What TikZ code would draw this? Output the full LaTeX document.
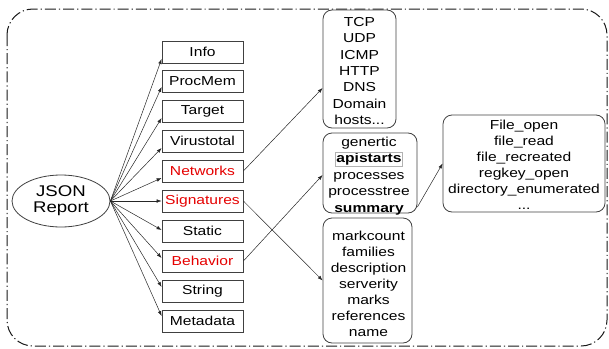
\documentclass[tikz,border=0pt]{standalone}
\usepackage{fontspec}
\setmainfont{Liberation Sans}[FakeStretch=1.2]
\usetikzlibrary{arrows.meta,shapes.geometric}
\begin{document}
\begin{tikzpicture}[x=1pt,y=-1pt,
  lbox/.style={draw=black!75, line width=0.8pt, minimum width=81pt, minimum height=22pt, inner sep=0pt, font=\fontsize{13}{15}\selectfont},
  rbox/.style={draw=black!75, line width=0.8pt, rounded corners=9pt, inner sep=0pt},
  txt/.style={align=center, inner sep=0pt},
  hl/.style={text=red!90!black},
  arr/.style={draw=black!85, line width=0.5pt, -{Latex[length=5pt,width=3.6pt]}},
  frame/.style={draw=black!90, line width=1pt, rounded corners=26pt, dash pattern=on 11pt off 3pt on 1.2pt off 3pt}
]
\useasboundingbox (0,0) rectangle (609,348);
\draw[frame] (7,9) rectangle (607,346);

% root
\node[ellipse, draw=black!75, line width=0.8pt, minimum width=98pt, minimum height=52pt, inner sep=0pt, align=center, font=\fontsize{15.5}{16}\selectfont] (json) at (61,201) {JSON\\Report};

% left column
\node[lbox] (info) at (202.5,52) {Info};
\node[lbox] (procmem) at (202.5,81) {ProcMem};
\node[lbox] (target) at (202.5,111) {Target};
\node[lbox] (virus) at (202.5,141) {Virustotal};
\node[lbox, hl] (networks) at (202.5,171) {Networks};
\node[lbox, hl] (signatures) at (202.5,201) {Signatures};
\node[lbox] (static) at (202.5,231) {Static};
\node[lbox, hl] (behavior) at (202.5,261) {Behavior};
\node[lbox] (string) at (202.5,291) {String};
\node[lbox] (metadata) at (202.5,321) {Metadata};

% right boxes
\node[rbox, minimum width=73pt, minimum height=118pt] (netbox) at (359.5,69) {};
\node[txt, font=\fontsize{13}{16.4}\selectfont] (nettxt) at (359.5,71) {TCP\\UDP\\ICMP\\HTTP\\DNS\\Domain\\hosts...};

\node[rbox, minimum width=94pt, minimum height=80pt] (behbox) at (370,173) {};
\node[txt, font=\fontsize{13}{16.5}\selectfont] (behtxt) at (369,176) {genertic\\{\fboxsep=0.6pt\fboxrule=0.4pt\color{black!30}\fbox{\color{black}\textbf{apistarts}}}\\processes\\processtree\\\textbf{summary}};

\node[rbox, minimum width=89pt, minimum height=125pt] (sigbox) at (367.5,280.5) {};
\node[txt, font=\fontsize{13}{16}\selectfont] (sigtxt) at (368.5,284) {markcount\\families\\description\\serverity\\marks\\references\\name};

\node[rbox, minimum width=162pt, minimum height=97pt] (apibox) at (524,163.5) {};
\node[txt, font=\fontsize{13}{16}\selectfont] (apitxt) at (524,165) {File\_open\\file\_read\\file\_recreated\\regkey\_open\\directory\_enumerated\\...};

% connectors from root
\draw[arr] (json.east) -- ([yshift=-7pt]info.west);
\draw[arr] (json.east) -- ([yshift=-6pt]procmem.west);
\draw[arr] (json.east) -- ([yshift=-7pt]target.west);
\draw[arr] (json.east) -- ([yshift=-7pt]virus.west);
\draw[arr] (json.east) -- ([yshift=-7pt]networks.west);
\draw[arr] (json.east) -- (signatures.west);
\draw[arr] (json.east) -- ([yshift=1pt]static.west);
\draw[arr] (json.east) -- ([yshift=3pt]behavior.west);
\draw[arr] (json.east) -- ([yshift=4pt]string.west);
\draw[arr] (json.east) -- ([yshift=5pt]metadata.west);

% connectors to detail boxes
\draw[arr] (networks.east) -- ([yshift=-19pt]netbox.west);
\draw[arr] (signatures.east) -- (sigbox.west);
\draw[arr] (behavior.east) -- ([yshift=-2pt]behbox.west);
\draw[arr] ([yshift=-34pt]behbox.east) -- (apibox.west);
\end{tikzpicture}
\end{document}
